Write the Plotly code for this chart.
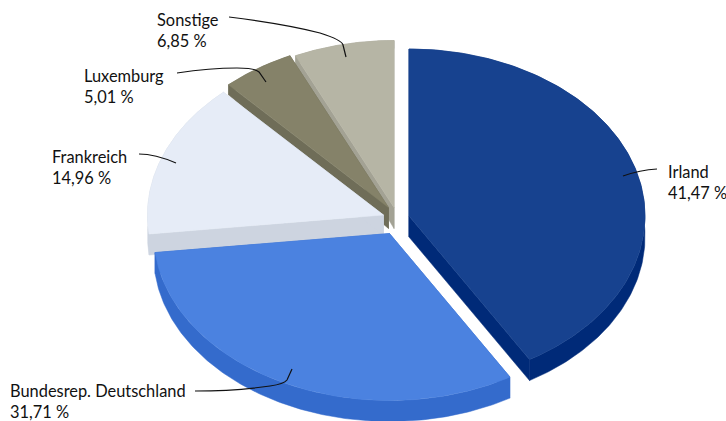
import numpy as np
import plotly.graph_objects as go

# Data
categories = ["Irland", "Bundesrep. Deutschland", "Frankreich", "Luxemburg", "Sonstige"]
values = [41.47, 31.71, 14.96, 5.01, 6.85]
value_labels = ["41,47 %", "31,71 %", "14,96 %", "5,01 %", "6,85 %"]

# Style
top_colors = ["#17428F", "#4B82E0", "#E6ECF7", "#858269", "#B6B5A5"]
side_colors = ["#002A78", "#346BCC", "#CDD4E0", "#6F6D58", "#A3A294"]
centers = [(409, 216), (389.5, 233.5), (383.5, 215), (388.5, 207.5), (394, 207.5)]
RX, RY = 236, 167
W, H = 726, 421
draw_order = [4, 3, 2, 0, 1]
label_pos = [(666, 182), (8, 401), (50, 167), (82, 86), (155, 30)]
leaders = [
    "M623,176 Q640,170 657,169",
    "M292,369 L287,380 Q284,384 270,386 Q235,391 195,391",
    "M176,163 Q155,154 139,154",
    "M266,82 L259,72 Q255,68 237,68 Q210,68 177,73",
    "M346,57 L343,45 Q342,40 320,33 Q285,24 229,17",
]


def depth(v):
    return np.interp(v, [-1, -0.74, 0, 1], [8, 10, 21, 21])


def ring(theta, cx, cy):
    return cx + RX * np.sin(theta), cy - RY * np.cos(theta), -np.cos(theta)


edges = np.radians(np.concatenate([[0], np.cumsum(values) * 3.6]))
fig = go.Figure()


def poly(xs, ys, color):
    fig.add_trace(go.Scatter(
        x=list(xs), y=list(ys), mode="lines", fill="toself", fillcolor=color,
        line=dict(color=color, width=0.5), hoverinfo="skip", showlegend=False,
    ))


for i in draw_order:
    cx, cy = centers[i]
    a0, a1 = edges[i], edges[i + 1]
    th = np.linspace(a0, a1, 160)
    x, y, v = ring(th, cx, cy)
    d = depth(v)
    d0 = depth(0.0)
    # inner walls
    for k in (0, -1):
        poly([cx, x[k], x[k], cx, cx], [cy, y[k], y[k] + d[k], cy + d0, cy], side_colors[i])
    # outer wall
    poly(np.concatenate([x, x[::-1]]), np.concatenate([y, (y + d)[::-1]]), side_colors[i])
    # top face
    poly(np.concatenate([[cx], x, [cx]]), np.concatenate([[cy], y, [cy]]), top_colors[i])

shapes = [dict(type="path", xref="x", yref="y", path=p,
               line=dict(color="#111111", width=1.2), layer="above") for p in leaders]
annotations = [
    dict(x=px, y=py, xref="x", yref="y", text=f"{c}<br>{l}", showarrow=False,
         xanchor="left", yanchor="middle", align="left",
         font=dict(family="Lato", size=16.4, color="#111111"))
    for c, l, (px, py) in zip(categories, value_labels, label_pos)
]

fig.update_layout(
    width=W, height=H, margin=dict(l=0, r=0, t=0, b=0),
    paper_bgcolor="white", plot_bgcolor="white", showlegend=False,
    xaxis=dict(range=[0, W], visible=False, fixedrange=True),
    yaxis=dict(range=[H, 0], visible=False, fixedrange=True),
    shapes=shapes, annotations=annotations,
)
fig.write_html("out.html", config={"displayModeBar": False},
               post_script="document.body.style.margin='0';document.body.style.overflow='hidden';")
